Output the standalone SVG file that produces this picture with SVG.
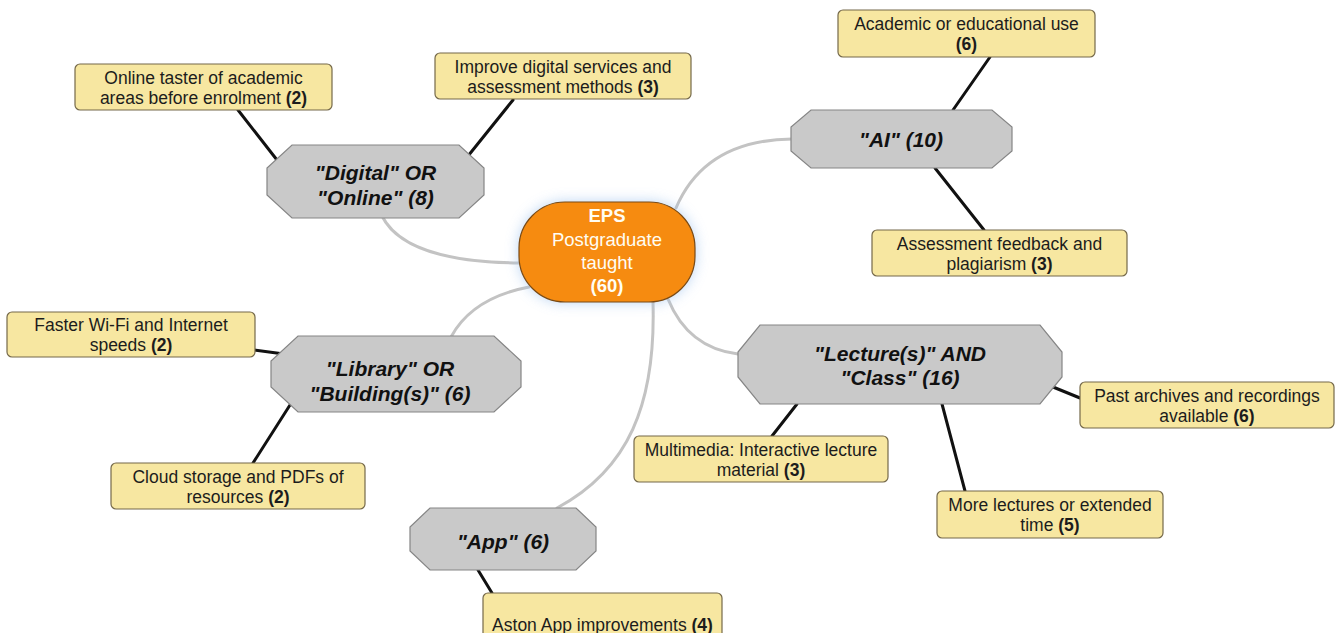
<svg xmlns="http://www.w3.org/2000/svg" width="1342" height="633" viewBox="0 0 1342 633">
  <defs>
    <filter id="halo" x="-30%" y="-30%" width="160%" height="160%">
      <feGaussianBlur stdDeviation="7"/>
    </filter>
    <style>
      .link-soft { fill: none; stroke: #c3c3c3; stroke-width: 3; stroke-linecap: round; }
      .link-hard { fill: none; stroke: #111; stroke-width: 3; stroke-linecap: round; }
      .topic { fill: #c9c9c9; stroke: #858585; stroke-width: 1.2; }
      .topic-text { font-family: "Liberation Sans", Arial, sans-serif; font-size: 21px; font-weight: bold; font-style: italic; fill: #111; text-anchor: middle; }
      .note { fill: #f7e7a1; stroke: #75694a; stroke-width: 1.2; }
      .note-text { font-family: "Liberation Sans", Arial, sans-serif; font-size: 17.5px; fill: #1c1c1c; text-anchor: middle; }
      .note-text tspan.n { font-weight: bold; }
      .hub { fill: #f68b10; stroke: #7a4a14; stroke-width: 1.2; }
      .hub-text { font-family: "Liberation Sans", Arial, sans-serif; font-size: 18.5px; fill: #fffdf3; text-anchor: middle; }
    </style>
  </defs>

  <rect x="0" y="0" width="1342" height="633" fill="#ffffff"/>

  <!-- connectors -->
  <g id="connectors">
    <path class="link-soft" d="M 519 263 Q 405 262 382 216"/>
    <path class="link-soft" d="M 676 208 Q 705 140 792 139"/>
    <path class="link-soft" d="M 529 287 Q 472 298 451 337"/>
    <path class="link-soft" d="M 668 299 Q 688 348 738 354"/>
    <path class="link-soft" d="M 653 302 C 656 405 628 470 557 508"/>

    <line class="link-hard" x1="238" y1="110" x2="277" y2="160"/>
    <line class="link-hard" x1="513" y1="100" x2="468" y2="156"/>
    <line class="link-hard" x1="990" y1="57" x2="953" y2="110"/>
    <line class="link-hard" x1="935" y1="168" x2="984" y2="230"/>
    <line class="link-hard" x1="254" y1="350" x2="284" y2="354"/>
    <line class="link-hard" x1="290" y1="405" x2="253" y2="463"/>
    <line class="link-hard" x1="797" y1="404" x2="772" y2="436"/>
    <line class="link-hard" x1="942" y1="404" x2="965" y2="491"/>
    <line class="link-hard" x1="1053" y1="387" x2="1080" y2="398"/>
    <line class="link-hard" x1="478" y1="570" x2="492" y2="593"/>
  </g>

  <!-- central hub -->
  <g id="hub">
    <rect x="519" y="202" width="176" height="100" rx="46" fill="#9fc3ee" opacity="0.75" filter="url(#halo)"/>
    <rect class="hub" x="519" y="202" width="176" height="100" rx="46"/>
    <text class="hub-text" x="607" y="222" font-weight="bold">EPS</text>
    <text class="hub-text" x="607" y="246">Postgraduate</text>
    <text class="hub-text" x="607" y="269">taught</text>
    <text class="hub-text" x="607" y="292" font-weight="bold">(60)</text>
  </g>

  <!-- keyword topics -->
  <g id="topic-digital">
    <polygon class="topic" points="292,145 459,145 484,168 484,195 459,218 292,218 267,195 267,168"/>
    <text class="topic-text" x="375.5" y="180">"Digital" OR</text>
    <text class="topic-text" x="375.5" y="205">"Online" (8)</text>
  </g>

  <g id="topic-ai">
    <polygon class="topic" points="811,110 992,110 1012,127 1012,151 992,168 811,168 791,151 791,127"/>
    <text class="topic-text" x="901" y="146.5">"AI" (10)</text>
  </g>

  <g id="topic-library">
    <polygon class="topic" points="298,336 494,336 521,361 521,387 494,412 298,412 271,387 271,361"/>
    <text class="topic-text" x="390" y="375.5">"Library" OR</text>
    <text class="topic-text" x="390" y="400.5">"Building(s)" (6)</text>
  </g>

  <g id="topic-lecture">
    <polygon class="topic" points="760,325 1040,325 1062,352 1062,377 1040,404 760,404 738,377 738,352"/>
    <text class="topic-text" x="900" y="360.5">"Lecture(s)" AND</text>
    <text class="topic-text" x="900" y="384.5">"Class" (16)</text>
  </g>

  <g id="topic-app">
    <polygon class="topic" points="430,508 576,508 596,527 596,551 576,570 430,570 410,551 410,527"/>
    <text class="topic-text" x="503" y="548.5">"App" (6)</text>
  </g>

  <!-- theme notes -->
  <g id="note-online-taster">
    <rect class="note" x="75" y="64" width="257" height="46" rx="5"/>
    <text class="note-text" x="203.5" y="83.5">Online taster of academic</text>
    <text class="note-text" x="203.5" y="103.5">areas before enrolment <tspan class="n">(2)</tspan></text>
  </g>

  <g id="note-digital-services">
    <rect class="note" x="435" y="53" width="256" height="46" rx="5"/>
    <text class="note-text" x="563" y="72.5">Improve digital services and</text>
    <text class="note-text" x="563" y="92.5">assessment methods <tspan class="n">(3)</tspan></text>
  </g>

  <g id="note-academic-use">
    <rect class="note" x="838" y="10" width="257" height="47" rx="5"/>
    <text class="note-text" x="966.5" y="29.5">Academic or educational use</text>
    <text class="note-text" x="966.5" y="49.5"><tspan class="n">(6)</tspan></text>
  </g>

  <g id="note-assessment">
    <rect class="note" x="872" y="230" width="255" height="46" rx="5"/>
    <text class="note-text" x="999.5" y="249.5">Assessment feedback and</text>
    <text class="note-text" x="999.5" y="269.5">plagiarism <tspan class="n">(3)</tspan></text>
  </g>

  <g id="note-wifi">
    <rect class="note" x="7" y="312" width="248" height="45" rx="5"/>
    <text class="note-text" x="131" y="331">Faster Wi-Fi and Internet</text>
    <text class="note-text" x="131" y="351">speeds <tspan class="n">(2)</tspan></text>
  </g>

  <g id="note-cloud">
    <rect class="note" x="111" y="463" width="254" height="46" rx="5"/>
    <text class="note-text" x="238" y="482.5">Cloud storage and PDFs of</text>
    <text class="note-text" x="238" y="502.5">resources <tspan class="n">(2)</tspan></text>
  </g>

  <g id="note-multimedia">
    <rect class="note" x="634" y="436" width="254" height="46" rx="5"/>
    <text class="note-text" x="761" y="455.5">Multimedia: Interactive lecture</text>
    <text class="note-text" x="761" y="475.5">material <tspan class="n">(3)</tspan></text>
  </g>

  <g id="note-more-lectures">
    <rect class="note" x="937" y="491" width="226" height="47" rx="5"/>
    <text class="note-text" x="1050" y="510.5">More lectures or extended</text>
    <text class="note-text" x="1050" y="530.5">time <tspan class="n">(5)</tspan></text>
  </g>

  <g id="note-archives">
    <rect class="note" x="1080" y="382" width="254" height="46" rx="5"/>
    <text class="note-text" x="1207" y="401.5">Past archives and recordings</text>
    <text class="note-text" x="1207" y="421.5">available <tspan class="n">(6)</tspan></text>
  </g>

  <g id="note-aston-app">
    <rect class="note" x="483" y="593" width="239" height="46" rx="5"/>
    <text class="note-text" x="602.5" y="631">Aston App improvements <tspan class="n">(4)</tspan></text>
  </g>
</svg>
